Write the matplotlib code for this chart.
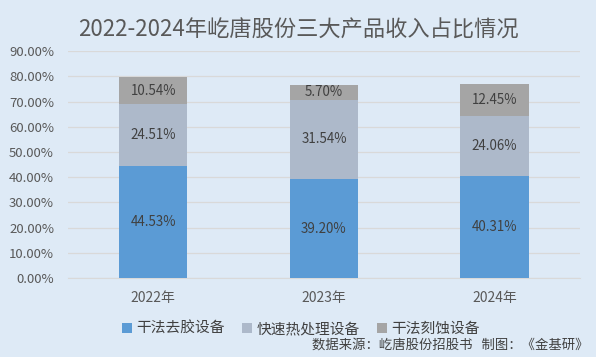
import matplotlib
matplotlib.use('Agg')
import matplotlib.pyplot as plt
import numpy as np

plt.rcParams['font.family'] = ['Noto Sans CJK SC', 'DejaVu Sans']

years = ['2022年', '2023年', '2024年']
series_names = ['干法去胶设备', '快速热处理设备', '干法刻蚀设备']
dry_strip = [44.53, 39.20, 40.31]
rtp = [24.51, 31.54, 24.06]
dry_etch = [10.54, 5.70, 12.45]
colors = ['#5B9BD5', '#ADB9CA', '#A5A5A5']

bg = '#DEEAF6'
fig = plt.figure(figsize=(5.96, 3.57), dpi=100, facecolor=bg)
ax = fig.add_axes([0.114, 0.221, 0.859, 0.636], facecolor=bg)

x = np.arange(len(years))
bottom = np.zeros(len(years))
for vals, name, c in zip([dry_strip, rtp, dry_etch], series_names, colors):
    vals = np.array(vals)
    ax.bar(x, vals, width=0.4, bottom=bottom, color=c, label=name, zorder=3)
    for xi, b, v in zip(x, bottom, vals):
        ax.text(xi, b + v / 2, '%.2f%%' % v, ha='center', va='center',
                fontsize=9.6, color='#404040', zorder=4)
    bottom += vals

ax.set_xlim(-0.5, 2.5)
ax.set_ylim(0, 90)
ax.set_yticks(np.arange(0, 91, 10))
ax.set_yticklabels(['%.2f%%' % v for v in np.arange(0, 91, 10)])
ax.set_xticks(x)
ax.set_xticklabels(years)
ax.tick_params(axis='both', length=0, labelsize=9.5, colors='#595959')
ax.tick_params(axis='y', pad=10)
ax.tick_params(axis='x', labelsize=10, pad=9)
ax.grid(axis='y', color='#D9D9D9', linewidth=0.9, zorder=0)
for s in ['top', 'right', 'left']:
    ax.spines[s].set_visible(False)
ax.spines['bottom'].set_color('#D9D9D9')

fig.text(0.5, 0.915, '2022-2024年屹唐股份三大产品收入占比情况', ha='center', va='center',
         fontsize=16, color='#595959')

leg = fig.legend(loc='center', bbox_to_anchor=(0.505, 0.078), ncol=3, frameon=False,
                 fontsize=10.6, handlelength=0.65, handleheight=0.65, handletextpad=0.3,
                 columnspacing=1.2, labelcolor='#404040')

fig.text(0.987, 0.016, '数据来源：屹唐股份招股书   制图：《金基研》', ha='right', va='bottom',
         fontsize=9.6, color='#404040')

plt.savefig('out.png', dpi=100, facecolor=bg)
